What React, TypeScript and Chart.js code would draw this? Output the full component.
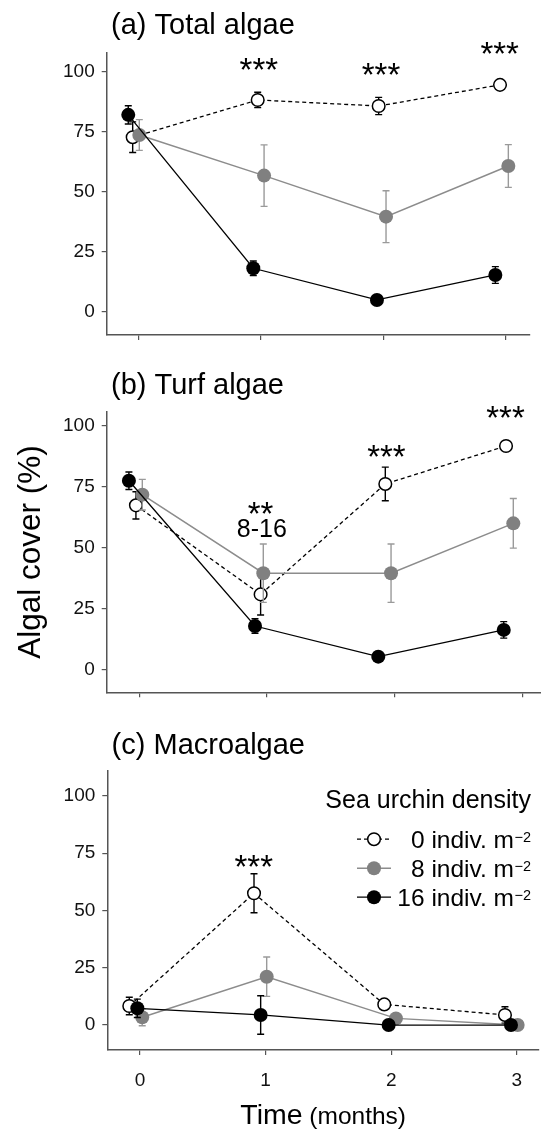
import { useEffect, useRef } from 'react'
import { Chart, registerables } from 'chart.js'

Chart.register(...registerables)

const FONT = '"Liberation Sans", Arial, Helvetica, sans-serif'
Chart.defaults.font.family = FONT

// ---- data ----
const months = [0, 1, 2, 3]
const coverTicks = [0, 25, 50, 75, 100]
const densities = ['0', '8', '16']

// x positions are the dodged positions of the points around each month
// (a) Total algae
const totalX0 = [-0.046, 0.974, 1.961, 2.951]
const totalY0 = [72.7, 88.2, 85.7, 94.5]
const totalE0 = [6.4, 3.2, 3.6, 1.2]
const totalX8 = [0.008, 1.026, 2.021, 3.019]
const totalY8 = [73.6, 56.7, 39.6, 60.7]
const totalE8 = [6.4, 12.8, 10.8, 8.9]
const totalX16 = [-0.082, 0.938, 1.947, 2.913]
const totalY16 = [82.0, 18.1, 4.9, 15.3]
const totalE16 = [3.8, 3.0, 1.5, 3.5]

// (b) Turf algae
const turfX0 = [-0.026, 0.951, 1.928, 2.874]
const turfY0 = [67.4, 30.8, 76.2, 91.8]
const turfE0 = [5.6, 8.5, 6.9, 1.2]
const turfX8 = [0.024, 0.972, 1.973, 2.931]
const turfY8 = [71.8, 39.5, 39.5, 60.0]
const turfE8 = [6.3, 12.0, 12.0, 10.2]
const turfX16 = [-0.081, 0.907, 1.873, 2.856]
const turfY16 = [77.5, 17.8, 5.2, 16.2]
const turfE16 = [3.6, 3.0, 1.5, 3.4]

// (c) Macroalgae
const macroX0 = [-0.085, 0.908, 1.945, 2.906]
const macroY0 = [8.3, 57.5, 9.0, 4.4]
const macroE0 = [3.8, 8.5, 1.5, 3.6]
const macroX8 = [0.018, 1.009, 2.038, 3.007]
const macroY8 = [3.4, 21.1, 2.9, 0]
const macroE8 = [3.7, 8.6, 1.0, 0.5]
const macroX16 = [-0.021, 0.961, 1.98, 2.954]
const macroY16 = [7.3, 4.4, 0, 0]
const macroE16 = [4.0, 8.4, 0.5, 0.5]

// significance labels, placed in data units
const totalMarks = [
  { x: 0.983, y: 103, text: '***' },
  { x: 1.98, y: 101, text: '***' },
  { x: 2.948, y: 109.9, text: '***' },
]
const turfMarks = [
  { x: 0.95, y: 66.5, text: '**' },
  { x: 0.96, y: 58, text: '8-16' },
  { x: 1.937, y: 89.6, text: '***' },
  { x: 2.87, y: 105.8, text: '***' },
]
const macroMarks = [{ x: 0.906, y: 71.8, text: '***' }]

// ---- styling ----
const AXIS = '#555'
const TEXT = '#111'

const seriesStyles = [
  { line: '#000', fill: '#fff', dash: [4, 3], width: 1.3, radius: 6.3, pointBorder: 1.5, err: '#000', order: 3 },
  { line: '#8c8c8c', fill: '#808080', dash: [], width: 1.5, radius: 7, pointBorder: 0, err: '#9a9a9a', order: 2 },
  { line: '#000', fill: '#000', dash: [], width: 1.3, radius: 7, pointBorder: 0, err: '#000', order: 1 },
]

interface Mark { x: number; y: number; text: string }
interface Series { x: number[]; y: number[]; e: number[] }
interface Panel {
  title: string
  series: Series[]
  marks: Mark[]
  height: number
  padTop: number
  padRight: number
  axisWidth: number
  axisHeight: number
  xRange: [number, number]
  yRange: [number, number]
  xLabels?: boolean
  yTitle?: string
  legend?: boolean
  xTitle?: boolean
}

const panels: Panel[] = [
  {
    title: '(a) Total algae',
    series: [
      { x: totalX0, y: totalY0, e: totalE0 },
      { x: totalX8, y: totalY8, e: totalE8 },
      { x: totalX16, y: totalY16, e: totalE16 },
    ],
    marks: totalMarks,
    height: 360, padTop: 52.7, padRight: 11.7, axisWidth: 106.7, axisHeight: 25,
    xRange: [-0.258, 3.19], yRange: [-9.7, 107.9],
  },
  {
    title: '(b) Turf algae',
    series: [
      { x: turfX0, y: turfY0, e: turfE0 },
      { x: turfX8, y: turfY8, e: turfE8 },
      { x: turfX16, y: turfY16, e: turfE16 },
    ],
    marks: turfMarks,
    height: 360, padTop: 51.7, padRight: 0, axisWidth: 106.7, axisHeight: 27.7,
    xRange: [-0.255, 3.148], yRange: [-9.45, 105.9],
    yTitle: 'Algal cover (%)',
  },
  {
    title: '(c) Macroalgae',
    series: [
      { x: macroX0, y: macroY0, e: macroE0 },
      { x: macroX8, y: macroY8, e: macroE8 },
      { x: macroX16, y: macroY16, e: macroE16 },
    ],
    marks: macroMarks,
    height: 412, padTop: 50.7, padRight: 2, axisWidth: 107.3, axisHeight: 82,
    xRange: [-0.26, 3.177], yRange: [-10.9, 111],
    xLabels: true, legend: true, xTitle: true,
  },
]

// text centred vertically on its ink box
function inkText(ctx: CanvasRenderingContext2D, text: string, x: number, cy: number, font: string, align: CanvasTextAlign) {
  ctx.font = font
  ctx.textAlign = align
  ctx.textBaseline = 'alphabetic'
  const m = ctx.measureText(text)
  ctx.fillText(text, x, cy + (m.actualBoundingBoxAscent - m.actualBoundingBoxDescent) / 2)
}

const errorBars = {
  id: 'errorBars',
  beforeDatasetDraw(chart: any, args: any) {
    const ds = chart.data.datasets[args.index]
    if (!ds.errors) return
    const yScale = chart.scales.y
    const ctx = chart.ctx as CanvasRenderingContext2D
    ctx.save()
    ctx.strokeStyle = ds.errorColor
    ctx.lineWidth = 1.4
    args.meta.data.forEach((pt: any, i: number) => {
      const v = ds.data[i].y
      const top = yScale.getPixelForValue(v + ds.errors[i])
      const bot = yScale.getPixelForValue(v - ds.errors[i])
      ctx.beginPath()
      ctx.moveTo(pt.x, top)
      ctx.lineTo(pt.x, bot)
      ctx.moveTo(pt.x - 3.5, top)
      ctx.lineTo(pt.x + 3.5, top)
      ctx.moveTo(pt.x - 3.5, bot)
      ctx.lineTo(pt.x + 3.5, bot)
      ctx.stroke()
    })
    ctx.restore()
  },
}

function panelText(panel: Panel) {
  return {
    id: 'panelText',
    afterDraw(chart: any) {
      const ctx = chart.ctx as CanvasRenderingContext2D
      const area = chart.chartArea
      const xs = chart.scales.x
      const ys = chart.scales.y
      ctx.save()
      ctx.fillStyle = '#000'

      // panel title
      ctx.font = `29px ${FONT}`
      ctx.textAlign = 'left'
      ctx.textBaseline = 'alphabetic'
      ctx.fillText(panel.title, area.left + 4.3, 34)

      // significance marks
      panel.marks.forEach((m) => {
        const font = m.text.includes('*') ? `33px ${FONT}` : `25px ${FONT}`
        inkText(ctx, m.text, xs.getPixelForValue(m.x), ys.getPixelForValue(m.y), font, 'center')
      })

      if (panel.legend) {
        const right = area.right - 8
        inkText(ctx, 'Sea urchin density', right, area.top + 30, `25px ${FONT}`, 'right')
        const supFont = `14.5px ${FONT}`
        ctx.font = supFont
        const supW = ctx.measureText('\u22122').width
        chart.data.datasets.forEach((ds: any, i: number) => {
          const cy = area.top + 68.5 + i * 29
          const mx = area.right - 165
          // symbol
          ctx.save()
          ctx.strokeStyle = ds.borderColor
          ctx.lineWidth = ds.borderWidth
          ctx.setLineDash(ds.borderDash)
          ctx.beginPath()
          ctx.moveTo(mx - 17, cy)
          ctx.lineTo(mx + 17, cy)
          ctx.stroke()
          ctx.setLineDash([])
          ctx.beginPath()
          ctx.arc(mx, cy, ds.pointRadius, 0, Math.PI * 2)
          ctx.fillStyle = ds.pointBackgroundColor
          ctx.fill()
          if (ds.pointBorderWidth > 0) {
            ctx.lineWidth = ds.pointBorderWidth
            ctx.strokeStyle = ds.pointBorderColor
            ctx.stroke()
          }
          ctx.restore()
          // label with superscript
          const label = `${ds.label} indiv. m`
          ctx.font = `24.5px ${FONT}`
          const mm = ctx.measureText(label)
          const base = cy + (mm.actualBoundingBoxAscent - mm.actualBoundingBoxDescent) / 2
          ctx.textAlign = 'right'
          ctx.fillText(label, right - supW - 0.5, base)
          ctx.font = supFont
          ctx.textAlign = 'left'
          ctx.fillText('\u22122', right - supW, base - 5.5)
        })
      }

      if (panel.xTitle) {
        const big = `28.5px ${FONT}`
        const small = `24.5px ${FONT}`
        ctx.font = big
        const w1 = ctx.measureText('Time').width
        ctx.font = small
        const w2 = ctx.measureText(' (months)').width
        const x0 = (area.left + area.right) / 2 - (w1 + w2) / 2
        const baseY = 404
        ctx.textAlign = 'left'
        ctx.font = big
        ctx.fillText('Time', x0, baseY)
        ctx.font = small
        ctx.fillText(' (months)', x0 + w1, baseY)
      }
      ctx.restore()
    },
  }
}

function buildConfig(panel: Panel): any {
  const datasets = panel.series.map((s, i) => {
    const st = seriesStyles[i]
    return {
      label: densities[i],
      data: s.x.map((x, j) => ({ x, y: s.y[j] })),
      errors: s.e,
      errorColor: st.err,
      borderColor: st.line,
      borderWidth: st.width,
      borderDash: st.dash,
      pointRadius: st.radius,
      pointHoverRadius: st.radius,
      pointBackgroundColor: st.fill,
      pointBorderColor: st.line,
      pointBorderWidth: st.pointBorder,
      tension: 0,
      fill: false,
      order: st.order,
      clip: false,
    }
  })

  const gridOpts = { display: true, drawOnChartArea: false, drawTicks: true, tickLength: 5, color: AXIS, lineWidth: 1.2 }
  const borderOpts = { display: true, color: AXIS, width: 1.5 }

  return {
    type: 'line',
    data: { datasets },
    options: {
      animation: false,
      responsive: true,
      maintainAspectRatio: false,
      events: [],
      layout: { autoPadding: false, padding: { top: panel.padTop, right: panel.padRight, left: 0, bottom: 0 } },
      plugins: { legend: { display: false }, tooltip: { enabled: false }, title: { display: false } },
      scales: {
        x: {
          type: 'linear',
          min: panel.xRange[0],
          max: panel.xRange[1],
          afterBuildTicks: (s: any) => { s.ticks = months.map((value) => ({ value })) },
          afterFit: (s: any) => { s.height = panel.axisHeight },
          ticks: {
            display: !!panel.xLabels,
            color: TEXT,
            font: { size: 19 },
            padding: 14,
            callback: (v: number) => String(v),
          },
          grid: gridOpts,
          border: borderOpts,
        },
        y: {
          type: 'linear',
          min: panel.yRange[0],
          max: panel.yRange[1],
          afterBuildTicks: (s: any) => { s.ticks = coverTicks.map((value) => ({ value })) },
          afterFit: (s: any) => { s.width = panel.axisWidth },
          ticks: { color: TEXT, font: { size: 19 }, padding: 7, callback: (v: number) => String(v) },
          title: {
            display: !!panel.yTitle,
            text: panel.yTitle || '',
            color: '#000',
            font: { size: 31.5 },
            padding: { top: 12.5, bottom: 0 },
          },
          grid: gridOpts,
          border: borderOpts,
        },
      },
    },
    plugins: [errorBars, panelText(panel)],
  }
}

function PanelChart({ panel }: { panel: Panel }) {
  const canvasRef = useRef<HTMLCanvasElement>(null)

  useEffect(() => {
    if (!canvasRef.current) return
    const chart = new Chart(canvasRef.current, buildConfig(panel))
    return () => chart.destroy()
  }, [panel])

  return (
    <div style={{ position: 'relative', width: 541, height: panel.height }}>
      <canvas ref={canvasRef} />
    </div>
  )
}

export default function App() {
  return (
    <div style={{ position: 'absolute', left: 0, top: 0, width: 541, height: 1132, background: '#fff' }}>
      {panels.map((p) => (
        <PanelChart key={p.title} panel={p} />
      ))}
    </div>
  )
}
